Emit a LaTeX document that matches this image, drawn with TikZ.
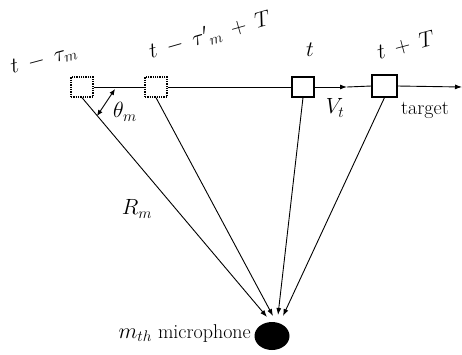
\RequirePackage{fix-cm}
\documentclass[tikz,border=0pt]{standalone}
\usepackage[no-math]{fontspec}
\newcommand\mlab[1]{$\medmuskip=8mu\relax #1$}
\usetikzlibrary{arrows.meta,shapes.geometric}
\begin{document}
\begin{tikzpicture}[x=1pt,y=-1pt,
  dotbox/.style={draw,densely dotted,line width=1.3pt,minimum width=22pt,minimum height=20pt,inner sep=0pt},
  solbox/.style={draw,line width=1.1pt,minimum width=22pt,minimum height=20pt,inner sep=0pt},
  conn/.style={line width=0.9pt},
  tip/.style={-{Latex[length=7pt,width=5pt]}},
  lbl/.style={font=\fontsize{22}{26}\selectfont,inner sep=0pt},
  tlbl/.style={font=\fontsize{20}{24}\selectfont,inner sep=0pt}]
\useasboundingbox (0,0) rectangle (462,354);
\node[dotbox] (b1) at (82,87) {};
\node[dotbox] (b2) at (156,87) {};
\node[solbox] (b3) at (303,87) {};
\node[solbox,minimum width=25pt,minimum height=22pt] (b4) at (384.5,86) {};
\node[ellipse,fill=black,minimum width=35pt,minimum height=28pt,inner sep=0pt] (mic) at (272,336) {};
\coordinate (va) at (347,87);
\coordinate (ve) at (462,87);
\coordinate (m1) at (267,317);
\coordinate (m2) at (273,316);
\coordinate (m3) at (278,315);
\coordinate (m4) at (283,316);
\coordinate (ta) at (115,89);
\coordinate (tb) at (97,116);
\draw[conn] (b1.east) -- (b2.west);
\draw[conn] (b2.east) -- (b3.west);
\draw[conn,tip] (b3.east) -- (va);
\draw[conn] (va) -- (b4.west);
\draw[conn,tip] (b4.east) -- (ve);
\draw[conn,tip] (b1.south) -- (m1);
\draw[conn,tip] (b2.south) -- (m2);
\draw[conn,tip] (b3.south) -- (m3);
\draw[conn,tip] (b4.south) -- (m4);
\draw[conn,{Latex[length=6pt,width=5pt]}-{Latex[length=6pt,width=5pt]}] (ta) -- (tb);
\node[lbl,rotate=15] (l1) at (44,60) {\mlab{t-\tau_m}};
\node[lbl,rotate=16] (l2) at (210,35) {\mlab{t-{\tau'}_m+T}};
\node[lbl] (l3) at (310,50) {$t$};
\node[lbl,rotate=15] (l4) at (406,45) {\mlab{t+T}};
\node[lbl] (l5) at (335,108) {$V_t$};
\node[tlbl] (l6) at (425,110) {target};
\node[lbl] (l7) at (125,112) {$\theta_m$};
\node[lbl] (l8) at (137,209) {$R_m$};
\node[tlbl,anchor=base east] (l9) at (251,338) {\fontsize{22}{26}\selectfont$m_{th}$\fontsize{20}{24}\selectfont{} microphone};
\end{tikzpicture}
\end{document}
